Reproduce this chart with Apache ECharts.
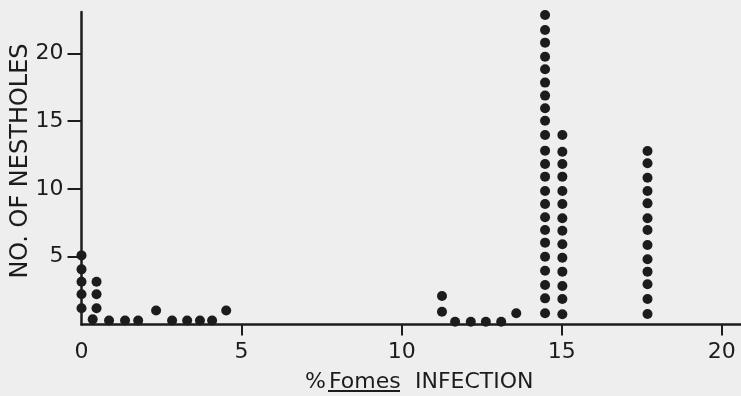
<!DOCTYPE html>
<html>
<head>
<meta charset="utf-8">
<script src="https://cdn.jsdelivr.net/npm/echarts@6/dist/echarts.min.js"></script>
<style>
  html, body { margin: 0; padding: 0; background: #eeeeee; }
  #chart { width: 741px; height: 396px; }
</style>
</head>
<body>
<div id="chart"></div>
<script>
// % infection (x) and number of nestholes (y), one entry per dot
var pctInfection = [
    // stack at 0
    0, 0, 0, 0, 0,
    // stack at ~0.5
    0.47, 0.47, 0.47,
    // low dots, left cluster
    0.35, 0.86, 1.36, 1.77, 2.33, 2.83, 3.30, 3.70, 4.08, 4.52,
    // right cluster
    11.26, 11.26, 11.67, 12.16, 12.63, 13.11, 13.58,
    // tall stack near 14.5
    14.48, 14.48, 14.48, 14.48, 14.48, 14.48, 14.48, 14.48, 14.48, 14.48, 14.48, 14.48,
    14.48, 14.48, 14.48, 14.48, 14.48, 14.48, 14.48, 14.48, 14.48, 14.48, 14.48,
    // stack at 15
    15.02, 15.02, 15.02, 15.02, 15.02, 15.02, 15.02, 15.02, 15.02, 15.02, 15.02, 15.02, 15.02, 15.02,
    // stack near 17.7
    17.68, 17.68, 17.68, 17.68, 17.68, 17.68, 17.68, 17.68, 17.68, 17.68, 17.68, 17.68, 17.68
];
var nestholes = [
    5.1, 4.07, 3.16, 2.23, 1.2,
    3.16, 2.23, 1.2,
    0.38, 0.3, 0.3, 0.3, 1.03, 0.3, 0.3, 0.3, 0.3, 1.03,
    2.1, 0.94, 0.2, 0.2, 0.2, 0.2, 0.83,
    22.84, 21.73, 20.8, 19.76, 18.83, 17.85, 16.89, 15.96, 15.04, 13.99, 12.83, 11.85,
    10.91, 9.85, 8.89, 7.91, 6.97, 6.04, 5.0, 3.97, 2.91, 1.93, 0.83,
    13.99, 12.75, 11.85, 10.91, 9.85, 8.89, 7.84, 6.92, 5.92, 4.93, 3.9, 2.84, 1.88, 0.75,
    12.8, 11.9, 10.83, 9.85, 8.94, 7.84, 6.97, 5.87, 4.81, 3.9, 2.97, 1.88, 0.77
];
var xLabels = [0, 5, 10, 15, 20];
var xTicks = [5, 10, 15, 20];
var yTicks = [5, 10, 15, 20];

var ink = "#1c1c1c";
var font = "DejaVu Sans";

var points = [];
for (var i = 0; i < pctInfection.length; i++) {
    points.push([pctInfection[i], nestholes[i]]);
}

var chart = echarts.init(document.getElementById("chart"));
chart.setOption({
    backgroundColor: "#eeeeee",
    animation: false,
    grid: { left: 81.5, right: 0, top: 12, bottom: 71.5 },
    xAxis: {
        type: "value",
        min: 0,
        max: 20.6,
        splitLine: { show: false },
        axisLine: { lineStyle: { color: ink, width: 2.5 } },
        axisTick: { customValues: xTicks, length: 11, lineStyle: { color: ink, width: 2 } },
        axisLabel: { customValues: xLabels, color: ink, fontFamily: font, fontSize: 22, margin: 17 }
    },
    yAxis: {
        type: "value",
        min: 0,
        max: 23.06,
        splitLine: { show: false },
        axisLine: { show: true, lineStyle: { color: ink, width: 2.5 } },
        axisTick: { customValues: yTicks, length: 14, lineStyle: { color: ink, width: 2 } },
        axisLabel: { customValues: yTicks, color: ink, fontFamily: font, fontSize: 22, margin: 18 }
    },
    graphic: [
        {
            type: "text",
            x: 21, y: 161,
            rotation: Math.PI / 2,
            style: {
                text: "NO. OF NESTHOLES",
                fill: ink, font: "24px DejaVu Sans",
                align: "center", verticalAlign: "middle"
            }
        },
        {
            type: "text",
            x: 326, y: 382.5,
            style: { text: "%", fill: ink, font: "22px DejaVu Sans", align: "right", verticalAlign: "middle" }
        },
        {
            type: "text",
            x: 329, y: 382.5,
            style: { text: "Fomes", fill: ink, font: "22px DejaVu Sans", align: "left", verticalAlign: "middle" }
        },
        {
            type: "text",
            x: 415, y: 382.5,
            style: { text: "INFECTION", fill: ink, font: "22px DejaVu Sans", align: "left", verticalAlign: "middle" }
        },
        {
            type: "line",
            shape: { x1: 328, y1: 391, x2: 400, y2: 391 },
            style: { stroke: ink, lineWidth: 2 }
        }
    ],
    series: [{
        type: "scatter",
        data: points,
        symbol: "circle",
        symbolSize: 10,
        itemStyle: { color: ink, opacity: 1 }
    }]
});
</script>
</body>
</html>
